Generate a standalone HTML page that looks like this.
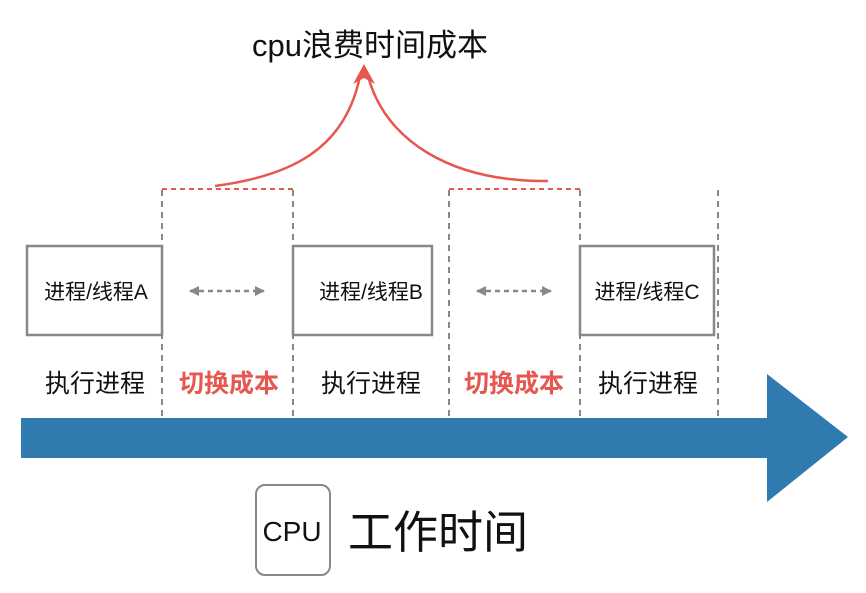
<!DOCTYPE html>
<html><head><meta charset="utf-8"><style>
body{margin:0;width:866px;height:588px;background:#fff;overflow:hidden}
svg text{font-family:"Liberation Sans","Noto Sans CJK SC",sans-serif}
</style></head><body>
<svg width="866" height="588" viewBox="0 0 866 588">
<defs>
<marker id="ga" viewBox="0 0 10 10" refX="9" refY="5" markerWidth="4" markerHeight="4" orient="auto-start-reverse"><path d="M0,0L10,5L0,10z" fill="#888"/></marker>
</defs>
<text x="370" y="56" font-size="31" text-anchor="middle" fill="#111">cpu浪费时间成本</text>
<path d="M215,186 C290,176 345,150 360,76" fill="none" stroke="#e5574f" stroke-width="2.5"/>
<path d="M548,181 C450,182 385,140 368,76" fill="none" stroke="#e5574f" stroke-width="2.5"/>
<path d="M364,64 L353,84 L364,78 L375,84Z" fill="#e5574f"/>
<line x1="162" y1="189" x2="293" y2="189" stroke="#e5574f" stroke-width="2" stroke-dasharray="5,4"/>
<line x1="449" y1="189" x2="580" y2="189" stroke="#e5574f" stroke-width="2" stroke-dasharray="5,4"/>
<g stroke="#888" stroke-width="2" stroke-dasharray="6,5">
<line x1="162" y1="190" x2="162" y2="418"/>
<line x1="293" y1="190" x2="293" y2="418"/>
<line x1="449" y1="190" x2="449" y2="418"/>
<line x1="580" y1="190" x2="580" y2="418"/>
<line x1="718" y1="190" x2="718" y2="418"/>
</g>
<g fill="#fff" stroke="#888" stroke-width="2.5">
<rect x="27" y="246" width="135" height="89"/>
<rect x="293" y="246" width="139" height="89"/>
<rect x="580" y="246" width="134" height="89"/>
</g>
<g font-size="21" fill="#111" text-anchor="middle">
<text x="96" y="299">进程/线程A</text>
<text x="371" y="299">进程/线程B</text>
<text x="647" y="299">进程/线程C</text>
</g>
<g stroke="#888" stroke-width="2.5" stroke-dasharray="5,4" marker-start="url(#ga)" marker-end="url(#ga)">
<line x1="190" y1="291" x2="264" y2="291"/>
<line x1="477" y1="291" x2="551" y2="291"/>
</g>
<g font-size="25" text-anchor="middle">
<text x="95" y="392" fill="#111">执行进程</text>
<text x="229" y="392" fill="#e5574f" font-weight="bold">切换成本</text>
<text x="371" y="392" fill="#111">执行进程</text>
<text x="514" y="392" fill="#e5574f" font-weight="bold">切换成本</text>
<text x="648" y="392" fill="#111">执行进程</text>
</g>
<path d="M21,418 L767,418 L767,374 L848,437 L767,502 L767,458 L21,458Z" fill="#2f7bb0"/>
<rect x="256" y="485" width="74" height="90" rx="9" fill="#fff" stroke="#888" stroke-width="2"/>
<text x="292" y="541" font-size="28" text-anchor="middle" fill="#111">CPU</text>
<text x="348" y="548" font-size="45" fill="#111">工作时间</text>
</svg>
</body></html>
